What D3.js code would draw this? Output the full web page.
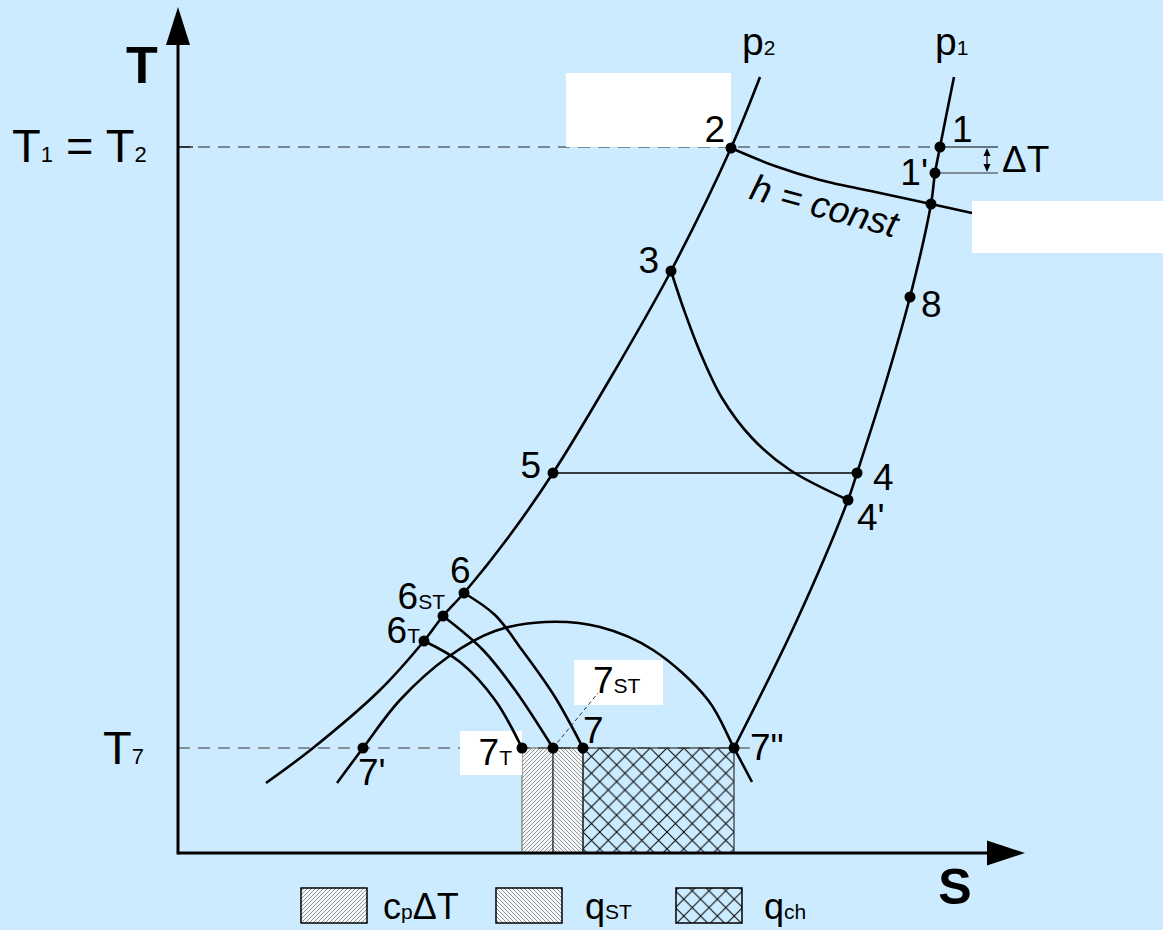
<!DOCTYPE html>
<html>
<head>
<meta charset="utf-8">
<script src="https://cdn.jsdelivr.net/npm/d3@7"></script>
<style>
  html, body { margin: 0; padding: 0; background: #cdebfe; }
  svg { display: block; }
  text { font-family: "Liberation Sans", Arial, Helvetica, sans-serif; fill: #000; }
</style>
</head>
<body>
<svg id="chart" width="1163" height="930"></svg>
<script>
// ---- T–s diagram of a gas refrigeration / liquefaction cycle (plot units) ----
// Each curve is a list of [s, T] pairs.
const isobarP2 = [[582,776],[553,705],[493,582],[436,481],[375,380],[332,318],[286,260],[265,237],[246,212],[202,163],[135,105],[88,70]];
const isobarP1 = [[776,776],[762,706],[757,680],[753,649],[732,556],[707,468],[679,380],[670,353],[619,233],[556,105]];
const saturationDome = [[159,70],[185,105],[222,153],[270,196],[317,222],[367,231],[422,226],[475,203],[530,153],[556,105],[574,71]];
const enthalpyConst = [[553,705],[597,687],[642,673],[702,660],[753,649],[794,640]];
const expansion3to4p = [[493,582],[506,543],[522,501],[544,455],[574,415],[612,383],[670,353]];
const expansion6to7 = [[286,260],[317,238],[344,203],[377,156],[405,105]];
const expansion6STto7ST = [[265,237],[305,203],[337,163],[375,105]];
const expansion6Tto7T = [[246,212],[282,191],[317,153],[344,105]];

// State points
const pointNames = ["1","1'","1h","2","3","8","5","4","4'","6","6ST","6T","7'","7T","7ST","7","7\""];
const pointS =     [762, 757, 753, 553, 493, 732, 375, 679, 670, 286, 265, 246, 185, 344, 375, 405, 556];
const pointT =     [706, 680, 649, 705, 582, 556, 380, 380, 353, 260, 237, 212, 105, 105, 105, 105, 105];

// Reference temperatures
const T1 = 706, T1p = 680, T7 = 105;

// Point labels: [point, main text, subscript, dx, dy, anchor]
const pointLabels = [
  ["1",   "1",  "",   12, -5,  "start"],
  ["1'",  "1'", "",   -7, 12,  "end"],
  ["2",   "2",  "",   -6, -6,  "end"],
  ["3",   "3",  "",  -12,  2,  "end"],
  ["8",   "8",  "",   11, 20,  "start"],
  ["5",   "5",  "",  -12,  5,  "end"],
  ["4",   "4",  "",   16, 17,  "start"],
  ["4'",  "4'", "",    9, 30,  "start"],
  ["6",   "6",  "",  -14, -10, "start"],
  ["6ST", "6",  "ST",  2, -7,  "end"],
  ["6T",  "6",  "T",  -4,  2,  "end"],
  ["7'",  "7'", "",   -5, 37,  "start"],
  ["7T",  "7",  "T", -10, 17,  "end"],
  ["7",   "7",  "",    0, -5,  "start"],
  ["7\"", "7\"","",   16, 12,  "start"]
];

// Heat areas under T7 and legend entries
const areaNames = ["cpΔT", "qST", "qch"];
const areaFrom = ["7T", "7ST", "7"];
const areaTo   = ["7ST", "7", "7\""];

const svg = d3.select("#chart");
const W = 1163, H = 930;

// Scales: entropy to the right, temperature upward
const x = d3.scaleLinear().domain([0, 850]).range([178, 1028]);
const y = d3.scaleLinear().domain([0, 850]).range([853, 3]);

const pt = {};
pointNames.forEach((n, i) => { pt[n] = { s: pointS[i], T: pointT[i] }; });
const px = n => x(pt[n].s), py = n => y(pt[n].T);

svg.append("rect").attr("width", W).attr("height", H).attr("fill", "#cdebfe");

// ---- patterns ----
const defs = svg.append("defs");
function hatch(id, d, color, bg) {
  const p = defs.append("pattern").attr("id", id)
    .attr("patternUnits", "userSpaceOnUse").attr("width", 4).attr("height", 4);
  p.append("rect").attr("width", 4).attr("height", 4).attr("fill", bg);
  p.append("path").attr("d", d).attr("stroke", color).attr("stroke-width", 0.9).attr("fill", "none");
}
hatch("hatchFwd", "M-1,1L1,-1M0,4L4,0M3,5L5,3", "#8a8a8a", "#f4f8fa");
hatch("hatchBack", "M-1,3L1,5M0,0L4,4M3,-1L5,1", "#8a8a8a", "#f4f8fa");
const cross = defs.append("pattern").attr("id", "crossHatch")
  .attr("patternUnits", "userSpaceOnUse").attr("width", 16.8).attr("height", 16.8)
  .attr("x", x(pt["7"].s)).attr("y", y(T7));
cross.append("path").attr("d", "M0,0L16.8,16.8M16.8,0L0,16.8")
  .attr("stroke", "#000").attr("stroke-width", 1).attr("fill", "none");
const fills = ["url(#hatchFwd)", "url(#hatchBack)", "url(#crossHatch)"];
const borders = ["#777", "#222", "#333"];

// ---- heat areas between T7 and s-axis ----
areaNames.forEach((a, i) => {
  svg.append("rect")
    .attr("x", px(areaFrom[i])).attr("y", y(T7))
    .attr("width", px(areaTo[i]) - px(areaFrom[i]))
    .attr("height", y(0) - y(T7))
    .attr("fill", fills[i]).attr("stroke", borders[i]).attr("stroke-width", 1.2);
});

// ---- dashed temperature levels ----
svg.append("line")
  .attr("x1", x(0)).attr("x2", px("1")).attr("y1", y(T1)).attr("y2", y(T1))
  .attr("stroke", "#222").attr("stroke-width", 1.2).attr("stroke-dasharray", "12,8");
svg.append("line")
  .attr("x1", x(0)).attr("x2", px("7\"") + 20).attr("y1", y(T7)).attr("y2", y(T7))
  .attr("stroke", "#333").attr("stroke-width", 1.2).attr("stroke-dasharray", "12,8");

// ---- blank label panels ----
const panel = (x0, y0, w, h) => svg.append("rect").attr("x", x0).attr("y", y0)
  .attr("width", w).attr("height", h).attr("fill", "#fff");
panel(px("2") - 165, py("2") - 75, 165, 74);
panel(px("1h") + 41, py("1h") - 3, W - px("1h") - 41, 52);
panel(px("7T") - 62, py("7T") - 17, 62, 44);
panel(px("7ST") + 21, py("7ST") - 88, 89, 45);

// ---- curves ----
const line = d3.line().x(d => x(d[0])).y(d => y(d[1])).curve(d3.curveCatmullRom.alpha(0.5));
[isobarP2, isobarP1, saturationDome, enthalpyConst, expansion3to4p,
 expansion6to7, expansion6STto7ST, expansion6Tto7T].forEach(c => {
  svg.append("path").attr("d", line(c)).attr("fill", "none")
    .attr("stroke", "#000").attr("stroke-width", 2.6).attr("stroke-linecap", "butt");
});

// throttling line 5 – 4
svg.append("line")
  .attr("x1", px("5")).attr("x2", px("4")).attr("y1", py("5")).attr("y2", py("4"))
  .attr("stroke", "#000").attr("stroke-width", 1.3);

// ---- ΔT dimension ----
const dimX = x(809);
svg.append("line").attr("x1", px("1")).attr("x2", x(820)).attr("y1", y(T1)).attr("y2", y(T1))
  .attr("stroke", "#000").attr("stroke-width", 1.2);
svg.append("line").attr("x1", px("1'")).attr("x2", x(820)).attr("y1", y(T1p)).attr("y2", y(T1p))
  .attr("stroke", "#333").attr("stroke-width", 1.2);
svg.append("line").attr("x1", dimX).attr("x2", dimX).attr("y1", y(T1) + 4).attr("y2", y(T1p) - 4)
  .attr("stroke", "#000").attr("stroke-width", 1.2);
svg.append("path").attr("d", `M${dimX},${y(T1) + 1}l-3.5,8h7z`).attr("fill", "#000");
svg.append("path").attr("d", `M${dimX},${y(T1p) - 1}l-3.5,-8h7z`).attr("fill", "#000");
svg.append("text").attr("x", dimX + 15).attr("y", y(T1p) - 1)
  .attr("font-size", 37).text("ΔT");

// 7ST leader
svg.append("line")
  .attr("x1", px("7ST")).attr("y1", py("7ST"))
  .attr("x2", px("7ST") + 45).attr("y2", py("7ST") - 55)
  .attr("stroke", "#333").attr("stroke-width", 1).attr("stroke-dasharray", "4,3");

// ---- state points ----
pointNames.forEach(n => {
  svg.append("circle").attr("cx", px(n)).attr("cy", py(n)).attr("r", 5.5).attr("fill", "#000");
});

// ---- labels ----
function subText(xp, yp, main, sub, anchor, big, small) {
  const t = svg.append("text").attr("x", xp).attr("y", yp)
    .attr("text-anchor", anchor).attr("font-size", big);
  t.append("tspan").text(main);
  if (sub) t.append("tspan").attr("font-size", small).text(sub);
  return t;
}
pointLabels.forEach(([n, main, sub, dx, dy, anchor]) => {
  subText(px(n) + dx, py(n) + dy, main, sub, anchor, 37, 21);
});
subText(px("7ST") + 40, py("7ST") - 55, "7", "ST", "start", 37, 21);

// isobar names
subText(x(isobarP2[0][0]) - 18, 55, "p", "2", "start", 39, 21);
subText(x(isobarP1[0][0]) - 19, 55, "p", "1", "start", 39, 21);

// h = const
const hx = x(643), hy = y(635);
svg.append("text").attr("transform", `translate(${hx},${hy}) rotate(15)`)
  .attr("text-anchor", "middle").attr("font-size", 37).attr("font-style", "italic")
  .text("h = const");

// temperature level labels
{
  const t = subText(12, y(T1) + 15, "T", "1", "start", 47, 22);
  t.append("tspan").attr("font-size", 47).text(" = T");
  t.append("tspan").attr("font-size", 22).text("2");
}
subText(103, y(T7) + 16, "T", "7", "start", 47, 22);

// ---- axes ----
svg.append("line").attr("x1", x(0)).attr("x2", x(0)).attr("y1", y(0) + 1.5).attr("y2", y(810))
  .attr("stroke", "#000").attr("stroke-width", 3);
svg.append("path")
  .attr("d", `M${x(0)},${y(846)}L${x(0) - 12},${y(808)}L${x(0) + 12},${y(808)}Z`).attr("fill", "#000");
svg.append("line").attr("x1", x(0)).attr("x2", x(812)).attr("y1", y(0)).attr("y2", y(0))
  .attr("stroke", "#000").attr("stroke-width", 3);
svg.append("path")
  .attr("d", `M${x(847)},${y(0)}L${x(809)},${y(0) - 12.5}L${x(809)},${y(0) + 12.5}Z`).attr("fill", "#000");
// tick at T1
svg.append("line").attr("x1", x(0)).attr("x2", x(15)).attr("y1", y(T1)).attr("y2", y(T1))
  .attr("stroke", "#000").attr("stroke-width", 1.2);

svg.append("text").attr("x", x(0) - 36).attr("y", 83).attr("text-anchor", "middle")
  .attr("font-size", 52).attr("font-weight", "bold").text("T");
svg.append("text").attr("x", 955).attr("y", 904).attr("text-anchor", "middle")
  .attr("font-size", 50).attr("font-weight", "bold").text("S");

// ---- legend ----
const legBoxX = [301, 496, 676], legTextX = [383, 585, 764];
const legMain = ["c", "q", "q"], legSub = ["p", "ST", "ch"], legTail = ["ΔT", "", ""];
areaNames.forEach((a, i) => {
  svg.append("rect").attr("x", legBoxX[i]).attr("y", 888).attr("width", 66).attr("height", 35)
    .attr("fill", fills[i]).attr("stroke", "#000").attr("stroke-width", 1.5);
  const t = subText(legTextX[i], 919, legMain[i], legSub[i], "start", 36, 21);
  if (legTail[i]) t.append("tspan").attr("font-size", 36).text(legTail[i]);
});
</script>
</body>
</html>
